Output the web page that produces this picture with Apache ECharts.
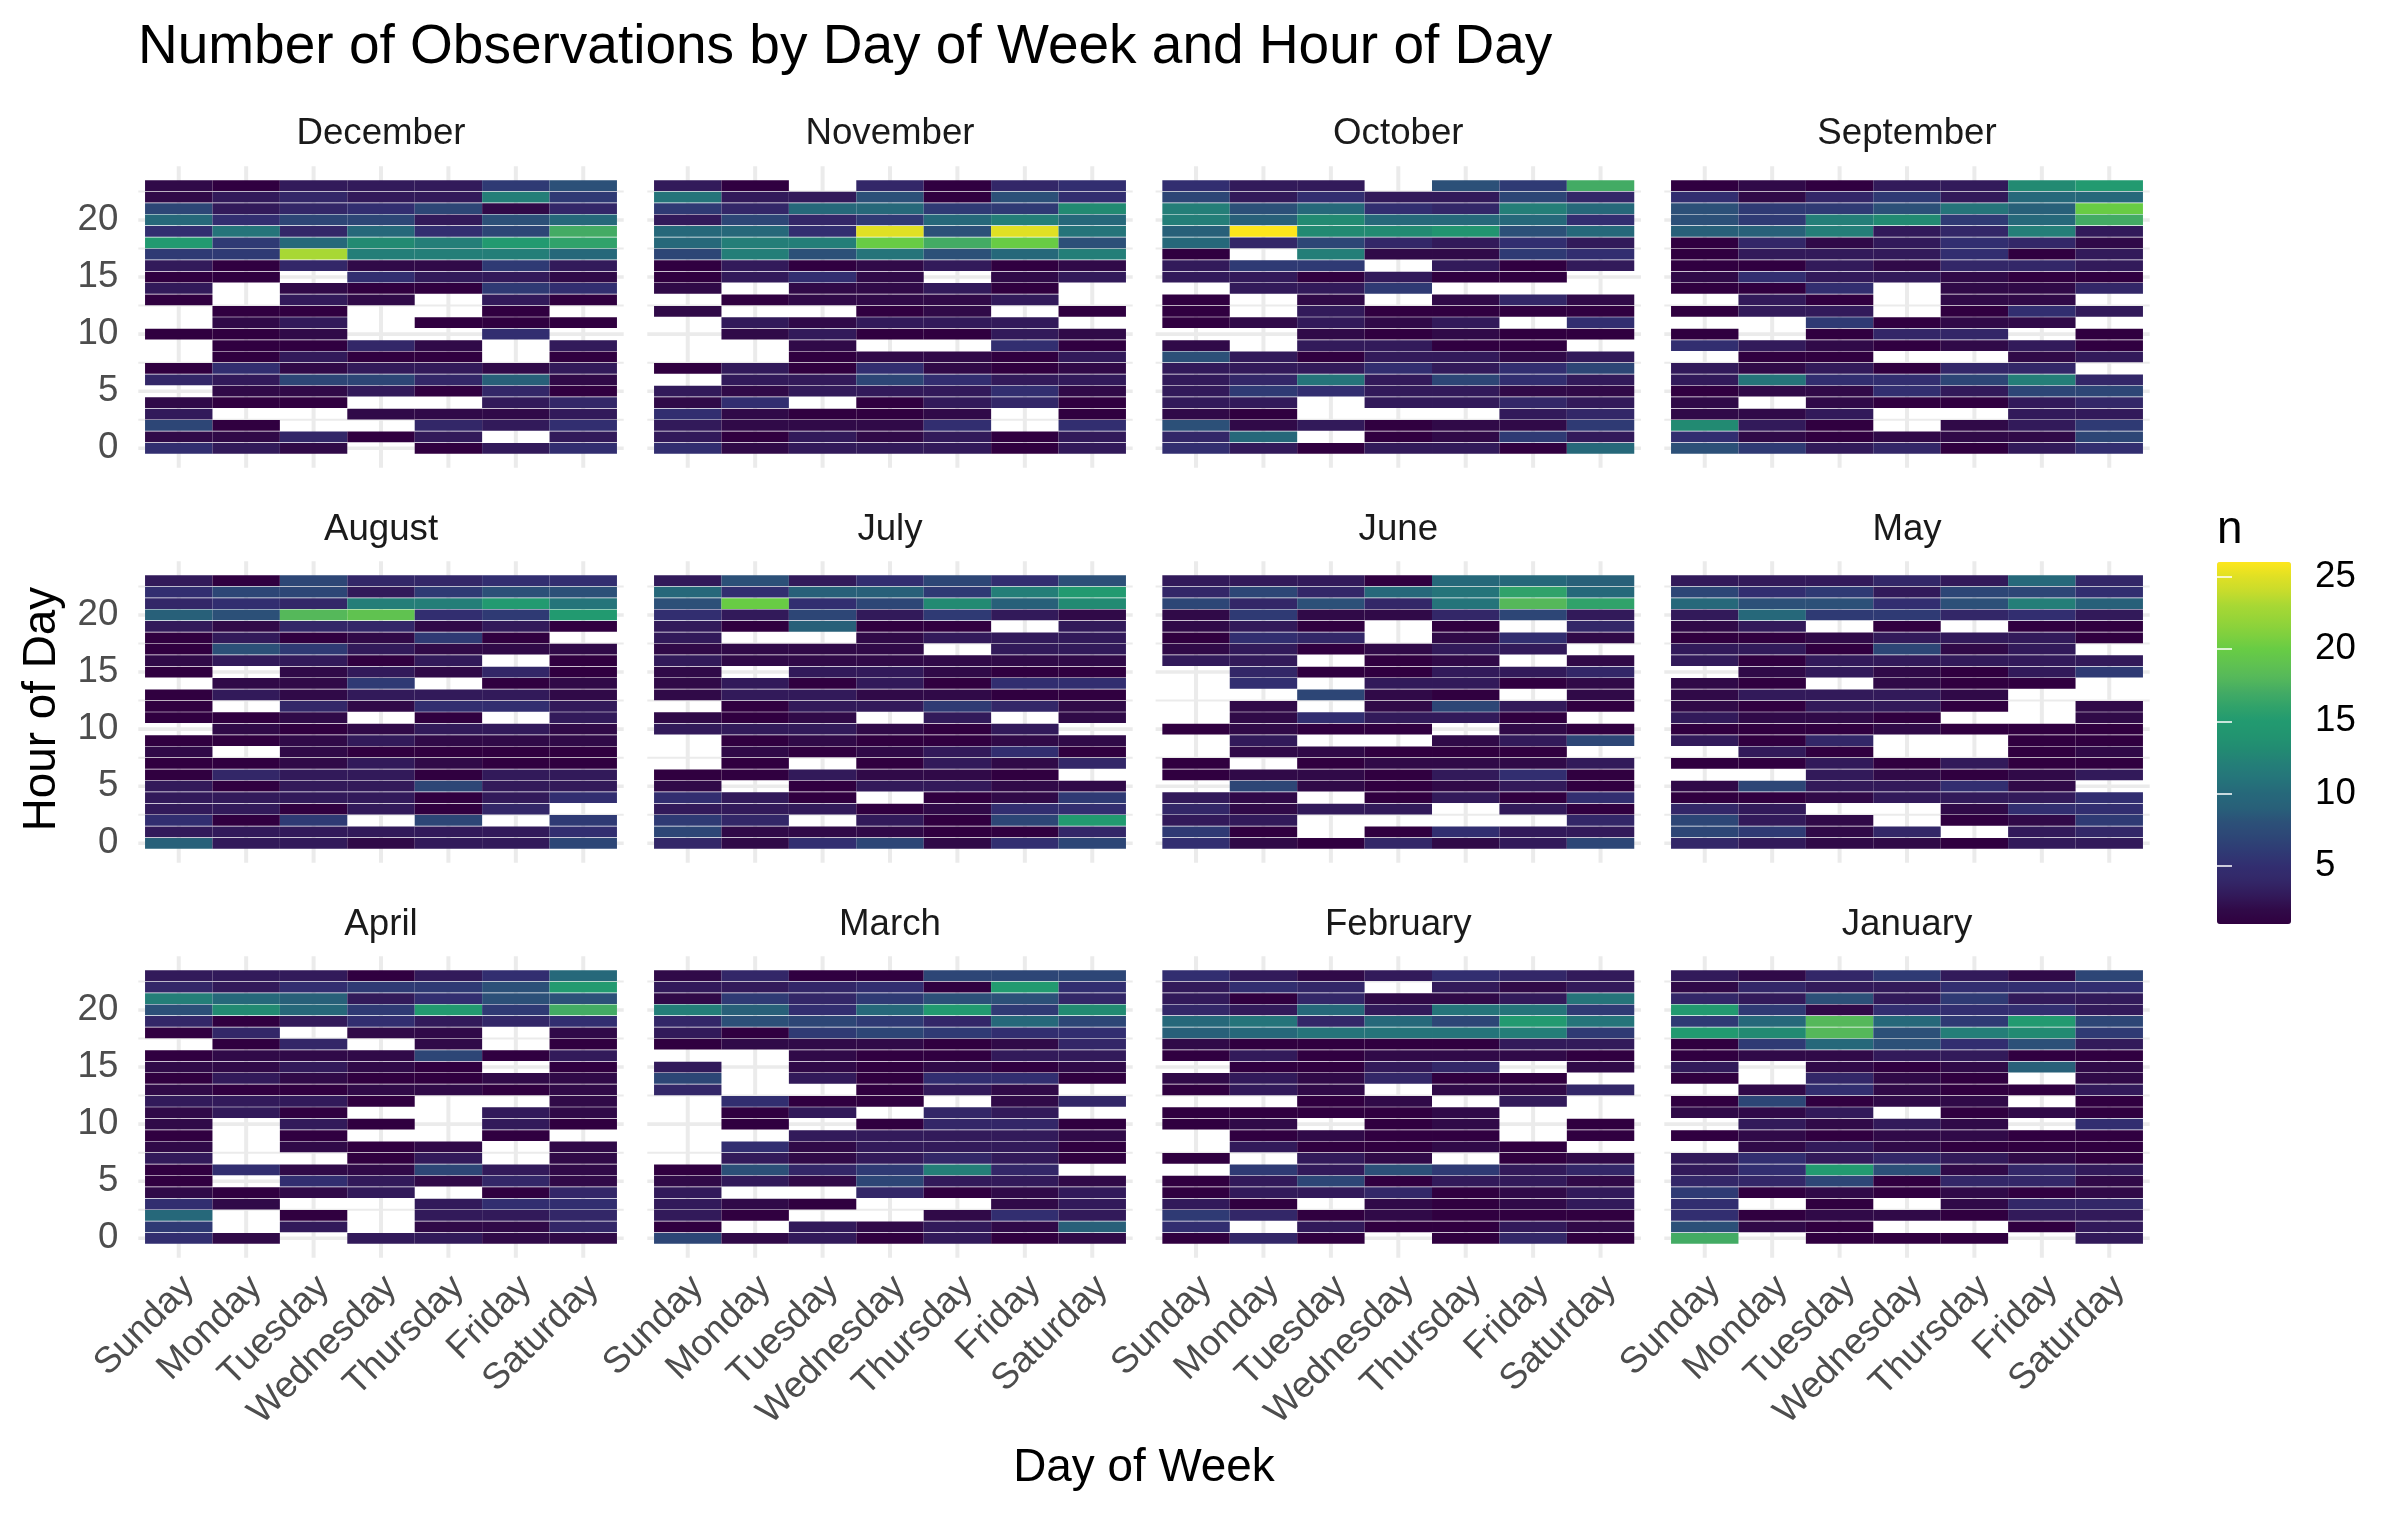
<!DOCTYPE html>
<html>
<head>
<meta charset="utf-8">
<script src="https://cdn.jsdelivr.net/npm/echarts@6/dist/echarts.min.js"></script>
<style>html,body{margin:0;padding:0;background:#fff}#c{width:2400px;height:1516px}</style>
</head>
<body>
<div id="c"></div>
<script>
const days = ['Sunday','Monday','Tuesday','Wednesday','Thursday','Friday','Saturday'];
const monthNames = ['December','November','October','September','August','July','June','May','April','March','February','January'];
const hourLabels = [0,5,10,15,20];
const hourMinor = [2.5,7.5,12.5,17.5,22.5];
const legendTicks = [5,10,15,20,25];
// each month: rows run from hour 23 (first) to hour 0 (last); columns Sunday..Saturday; 0 = no observation
const december = [[2,1,3,3,3,6,8],[2,3,4,3,3,12,6],[7,3,4,5,7,2,4],[10,5,7,7,3,8,10],[5,11,4,10,5,7,17],[15,6,10,13,12,15,16],[6,6,23,12,12,12,10],[3,1,4,2,2,6,3],[1,1,0,5,3,3,2],[3,0,2,1,1,6,5],[1,0,3,2,0,3,1],[0,1,1,0,0,1,0],[0,2,3,0,1,1,1],[1,1,2,0,0,5,0],[0,1,1,4,2,0,3],[0,1,3,1,1,0,1],[1,5,2,3,3,2,3],[4,3,7,7,4,9,2],[0,2,2,3,1,4,1],[2,1,1,0,0,3,4],[3,0,0,2,2,2,3],[7,1,0,0,4,3,5],[2,2,4,1,3,0,3],[5,3,2,0,1,3,5]];
const november = [[3,1,0,4,1,4,5],[11,3,3,8,1,8,5],[6,4,10,10,6,6,13],[3,7,4,6,10,12,10],[10,10,5,25,8,25,11],[10,12,12,20,17,20,8],[7,12,8,11,8,10,12],[1,3,1,2,3,1,2],[1,3,5,2,0,2,3],[2,0,2,2,3,1,0],[0,1,2,2,2,3,0],[2,0,0,1,2,0,1],[0,3,2,3,3,3,0],[0,2,3,1,1,3,2],[0,0,2,0,0,5,1],[0,0,1,2,2,1,3],[1,3,1,5,2,1,2],[0,3,3,7,5,3,3],[3,2,3,3,3,5,2],[2,5,0,1,3,4,1],[5,2,1,1,2,0,1],[3,2,2,2,5,0,5],[3,1,3,2,3,1,3],[5,2,3,3,3,1,3]];
const october = [[5,3,3,0,8,6,17],[7,3,5,3,3,7,4],[12,8,10,5,4,12,10],[12,9,13,10,10,10,5],[9,26,13,13,14,8,10],[10,4,7,4,3,5,3],[1,0,12,2,2,6,5],[3,6,6,0,3,1,3],[3,3,1,3,1,1,0],[0,3,3,6,0,0,0],[1,0,2,0,2,4,2],[1,0,3,1,1,1,1],[1,2,3,2,3,0,5],[0,0,2,1,2,1,1],[2,0,3,3,1,1,0],[8,3,1,3,3,2,3],[3,3,3,5,3,5,7],[3,4,11,3,7,5,3],[3,6,5,3,3,2,2],[3,3,0,3,3,4,3],[2,1,0,0,0,3,4],[8,2,3,1,2,2,6],[4,10,0,1,2,6,3],[5,3,1,3,3,1,10]];
const september = [[1,2,1,3,3,13,15],[5,2,4,6,3,10,10],[8,6,6,8,11,9,20],[8,6,12,13,6,10,17],[9,9,12,3,4,12,3],[1,4,2,3,5,4,2],[1,3,3,3,5,1,3],[1,1,3,2,4,4,3],[2,5,3,3,2,1,1],[1,1,5,0,2,2,4],[0,3,1,0,2,2,0],[1,3,3,0,1,5,3],[0,0,6,1,2,2,0],[1,0,1,4,4,0,1],[5,3,2,1,2,3,1],[0,1,1,0,0,2,3],[3,2,3,1,4,4,0],[3,11,5,5,7,12,4],[1,2,2,5,3,7,7],[2,0,2,1,1,3,4],[2,2,3,0,0,3,3],[13,3,1,0,2,3,6],[5,2,1,2,2,2,7],[8,6,3,4,1,3,5]];
const august = [[3,1,7,4,4,5,5],[5,7,7,3,6,8,8],[4,5,4,12,12,15,11],[9,8,18,19,5,6,15],[3,2,4,4,2,3,1],[1,3,1,2,6,1,0],[1,8,6,3,2,2,2],[2,3,3,1,3,0,1],[1,0,2,3,2,4,1],[0,2,2,6,0,1,2],[1,3,2,3,3,3,2],[1,0,4,2,5,5,3],[1,1,2,0,1,0,3],[0,2,1,2,3,3,2],[1,1,2,3,2,2,2],[2,0,2,1,1,1,1],[1,1,2,3,2,1,1],[1,4,3,3,1,3,3],[3,1,3,3,7,3,3],[3,3,3,3,1,3,5],[3,3,1,3,1,4,0],[5,1,6,0,7,0,6],[3,3,3,3,3,3,5],[9,3,3,2,3,3,7]];
const july = [[3,8,3,5,7,5,8],[10,5,9,9,6,12,15],[8,20,5,7,13,9,13],[5,3,7,3,6,3,2],[3,1,9,1,1,0,3],[3,0,0,2,3,3,3],[2,2,2,2,0,3,3],[3,2,2,2,2,2,2],[2,0,3,3,2,1,1],[2,3,1,3,1,5,5],[2,3,3,2,2,1,1],[0,1,3,3,6,4,2],[2,1,2,0,3,0,2],[3,3,3,2,1,3,0],[0,1,2,1,1,2,2],[0,2,1,2,3,5,1],[0,1,0,1,3,2,4],[1,1,3,2,2,1,0],[2,0,1,3,3,2,2],[5,3,1,0,1,2,6],[3,3,3,1,2,5,5],[6,4,0,3,1,7,15],[7,2,2,2,1,1,4],[4,2,5,7,2,5,7]];
const june = [[3,3,3,1,10,10,9],[4,7,4,10,11,16,10],[7,4,8,4,11,18,16],[2,6,2,2,4,7,3],[2,3,1,0,1,0,4],[1,5,4,0,2,5,2],[2,3,1,2,3,3,0],[3,3,0,1,2,0,2],[0,4,1,1,3,3,4],[0,5,0,3,3,1,2],[0,0,7,2,1,0,2],[0,2,0,2,7,3,1],[0,2,5,3,3,1,0],[1,2,1,1,0,2,1],[0,3,0,0,2,3,7],[0,2,2,1,1,1,0],[1,0,1,2,2,2,3],[1,2,2,1,3,5,1],[0,7,2,1,2,3,1],[3,2,0,1,3,1,5],[4,2,3,3,0,3,1],[3,3,0,0,0,0,4],[6,1,0,1,5,3,3],[5,2,1,4,2,3,7]];
const may = [[3,3,3,4,3,10,4],[7,5,6,3,7,7,5],[10,8,8,5,8,12,9],[3,10,6,6,4,5,3],[2,3,0,1,0,1,1],[1,1,2,3,3,3,1],[3,3,1,7,2,3,0],[3,1,3,3,3,3,3],[0,2,3,2,1,3,6],[2,1,0,2,1,1,0],[2,3,3,3,2,0,0],[2,1,3,3,1,0,2],[3,2,2,1,0,0,2],[1,1,1,2,1,1,1],[3,1,4,0,0,1,1],[0,3,1,0,0,1,2],[1,1,3,1,3,1,1],[0,0,3,2,1,2,3],[2,7,3,3,5,2,0],[1,1,2,3,3,3,5],[4,3,0,0,2,5,5],[7,3,2,0,1,2,6],[7,6,2,4,0,3,4],[4,3,2,2,1,3,3]];
const april = [[3,3,3,1,3,5,10],[4,3,5,6,6,8,15],[12,10,9,3,5,8,8],[8,13,10,6,15,6,17],[4,1,3,5,3,4,5],[1,4,0,2,2,0,2],[0,1,4,0,2,0,1],[1,2,2,2,7,1,3],[2,2,3,2,1,0,1],[1,3,2,1,1,2,2],[2,1,1,2,2,1,2],[3,3,3,1,0,0,2],[2,3,1,0,0,3,2],[2,0,3,1,0,3,1],[1,0,1,0,0,1,0],[2,0,2,1,2,0,2],[3,0,0,1,3,0,2],[1,5,2,2,7,3,2],[1,0,5,3,2,4,2],[2,1,2,3,0,1,4],[5,2,0,0,3,5,5],[10,0,1,0,3,3,4],[6,0,3,0,2,2,4],[5,2,0,3,3,2,2]];
const march = [[2,4,1,1,7,7,7],[3,3,4,5,1,15,5],[2,6,4,6,8,8,4],[12,9,5,10,15,6,13],[4,8,7,6,4,10,7],[3,1,6,7,6,5,5],[1,2,2,2,1,2,4],[0,0,2,1,1,3,3],[3,0,2,1,2,1,2],[7,0,3,1,5,5,1],[4,0,0,1,3,2,0],[0,5,1,1,0,2,4],[0,1,3,0,4,3,0],[0,1,0,1,4,4,1],[0,0,3,3,3,3,2],[0,5,2,3,3,3,1],[0,3,2,3,4,3,1],[1,8,4,6,12,4,0],[2,3,2,7,3,3,2],[3,0,0,4,1,2,3],[3,2,1,0,0,2,3],[3,1,0,0,2,5,3],[1,0,3,2,3,2,9],[7,2,3,1,3,1,2]];
const february = [[5,3,2,3,5,4,3],[3,5,4,0,3,2,3],[3,1,4,2,2,3,11],[4,3,10,3,11,11,6],[10,11,4,10,7,15,11],[9,10,11,11,11,12,6],[2,1,1,1,1,3,3],[1,3,1,2,2,2,1],[0,1,1,3,4,0,2],[2,3,2,4,1,1,0],[1,3,2,0,2,2,4],[0,0,1,2,0,3,0],[1,1,1,1,2,0,0],[1,2,0,1,2,0,1],[0,1,2,1,1,0,1],[0,3,1,1,2,1,0],[1,0,3,2,0,1,2],[0,6,3,8,6,3,4],[1,3,7,1,3,3,2],[1,3,3,4,1,2,3],[3,1,0,2,1,2,3],[6,4,1,2,1,1,1],[5,0,3,1,1,3,2],[1,4,1,0,1,4,1]];
const january = [[3,2,4,6,3,2,7],[2,4,3,3,5,5,5],[4,3,8,3,6,3,3],[15,6,2,5,5,5,3],[6,10,18,10,6,15,7],[15,13,18,8,12,13,6],[1,6,10,8,5,8,3],[1,2,2,3,3,1,1],[3,0,2,1,2,9,2],[1,0,4,2,1,0,2],[0,2,5,2,1,1,3],[1,7,1,2,2,0,1],[2,2,3,0,1,2,1],[0,3,2,3,2,0,5],[1,2,1,2,2,1,1],[0,2,3,2,1,1,1],[3,5,3,4,3,2,1],[3,5,15,8,2,4,3],[4,4,7,1,4,4,2],[6,1,2,1,2,1,2],[5,0,1,0,2,4,4],[5,1,2,2,1,3,3],[8,2,1,0,0,1,3],[17,0,1,1,1,0,3]];
const palette = ['#300040','#300a48','#321a5a','#332768','#322e70','#2f3a74','#2d4676','#2c5078','#286079','#26687a','#25747a','#247e78','#228a72','#229470','#229a70','#30a26a','#43ab64','#55b85a','#60c250','#68cc44','#80d03e','#95d438','#a8d834','#c8dc2c','#e0e024','#fde61c'];

const monthData = [december,november,october,september,august,july,june,may,april,march,february,january];
const FONT = '"Liberation Sans", Arial, sans-serif';
const colLeft = [138.3,647.3,1155.6,1664.3], rowTop = [166.3,561.3,956.3];
const panelW = 485.4, panelH = 301.4;
const xMin=-0.6, xMax=6.6, yMin=-1.7, yMax=24.7;
const barLeft = 2217, barTop = 562, barW = 74, barH = 362;

function cellItem(params, api){
  const c = api.coord([api.value(0), api.value(1)]);
  const s = api.size([1,1]);
  return {type:'rect', shape:{x:c[0]-s[0]/2, y:c[1]-s[1]/2+0.3, width:s[0], height:s[1]-0.6},
    style:{fill:api.visual('color')}};
}
function gridItem(params, api){
  const vertical = api.value(0)===1, v = api.value(1), w = api.value(2);
  const a = vertical ? api.coord([v,yMin]) : api.coord([xMin,v]);
  const b = vertical ? api.coord([v,yMax]) : api.coord([xMax,v]);
  return {type:'line', shape:{x1:a[0],y1:a[1],x2:b[0],y2:b[1]},
    style:{stroke:'#ebebeb', lineWidth:w}, silent:true};
}
const gridLineData = [
  ...days.map((d,i)=>[1,i,4]),
  ...hourLabels.map(h=>[0,h,3.6]),
  ...hourMinor.map(h=>[0,h,2])
];

const grids=[], xAxes=[], yAxes=[], series=[], titles=[], cellSeries=[];
titles.push({text:'Number of Observations by Day of Week and Hour of Day', left:138, top:20,
  padding:0, textStyle:{fontFamily:FONT,fontSize:55,fontWeight:'normal',color:'#000'}});
monthData.forEach((rows,m)=>{
  const col=m%4, row=Math.floor(m/4);
  grids.push({left:colLeft[col], top:rowTop[row], width:panelW, height:panelH, outerBoundsMode:'none'});
  const isBottom = row===2, isLeft = col===0;
  xAxes.push({type:'value', gridIndex:m, min:xMin, max:xMax, splitLine:{show:false}, axisLine:{show:false}, axisTick:{show:false},
    axisLabel:{show:isBottom, customValues:days.map((d,i)=>i), rotate:45, margin:34, padding:[0,-14,0,0], hideOverlap:false,
      formatter:v=>days[v], fontFamily:FONT, fontSize:36.67, color:'#4d4d4d'}});
  yAxes.push({type:'value', gridIndex:m, min:yMin, max:yMax, splitLine:{show:false}, axisLine:{show:false}, axisTick:{show:false},
    axisLabel:{show:isLeft, customValues:hourLabels, margin:20, padding:[10,0,0,0], fontFamily:FONT, fontSize:36.67, color:'#4d4d4d'}});
  const cells=[];
  rows.forEach((r,i)=>r.forEach((v,d)=>{ if(v>0) cells.push([d,23-i,v]); }));
  series.push({type:'custom', name:monthNames[m]+' grid', xAxisIndex:m, yAxisIndex:m, data:gridLineData,
    renderItem:gridItem, encode:{x:-1,y:-1}, z:1, silent:true});
  cellSeries.push(series.length);
  series.push({type:'custom', name:monthNames[m], xAxisIndex:m, yAxisIndex:m, data:cells,
    renderItem:cellItem, encode:{x:0,y:1,value:2}, z:2});
  titles.push({text:monthNames[m], left:colLeft[col]+panelW/2, top:[134,530,925][row], textAlign:'center', textVerticalAlign:'middle',
    padding:0, textStyle:{fontFamily:FONT,fontSize:36.67,fontWeight:'normal',color:'#1a1a1a'}});
});
// colour bar axes
const lg = monthData.length;
grids.push({left:barLeft, top:barTop, width:barW, height:barH, outerBoundsMode:'none'});
xAxes.push({type:'value', gridIndex:lg, min:0, max:1, show:false});
yAxes.push({type:'value', gridIndex:lg, position:'right', min:1, max:26, z:10, splitLine:{show:false}, axisLine:{show:false},
  axisTick:{show:true, inside:true, length:15, customValues:legendTicks, lineStyle:{color:'#fff',width:1.5}},
  axisLabel:{customValues:legendTicks, margin:24, fontFamily:FONT, fontSize:36.67, color:'#000'}});
yAxes.push({type:'value', gridIndex:lg, position:'left', min:1, max:26, z:10, splitLine:{show:false}, axisLine:{show:false},
  axisTick:{show:true, inside:true, length:15, customValues:legendTicks, lineStyle:{color:'#fff',width:1.5}},
  axisLabel:{show:false}});
titles.push({text:'n', left:barLeft, top:530, textVerticalAlign:'middle', padding:0,
  textStyle:{fontFamily:FONT,fontSize:45.83,fontWeight:'normal',color:'#000'}});

const option = {
  animation:false, backgroundColor:'#fff',
  title:titles, grid:grids, xAxis:xAxes, yAxis:yAxes, series,
  visualMap:[{type:'continuous', min:1, max:26, dimension:2, seriesIndex:cellSeries, inRange:{color:palette},
    left:barLeft, top:barTop, itemWidth:barW, itemHeight:barH, padding:0, text:null, calculable:false, realtime:false, hoverLink:false, z:4, textStyle:{fontSize:0}}],
  graphic:[
    {type:'text', x:1144, y:1468, style:{text:'Day of Week', font:'45.83px '+FONT, fill:'#000', textAlign:'center', textVerticalAlign:'middle'}},
    {type:'text', x:42, y:709, rotation:Math.PI/2, style:{text:'Hour of Day', font:'45.83px '+FONT, fill:'#000', textAlign:'center', textVerticalAlign:'middle'}}
  ]
};
const chart = echarts.init(document.getElementById('c'), null, {width:2400, height:1516});
chart.setOption(option);
</script>
</body>
</html>
